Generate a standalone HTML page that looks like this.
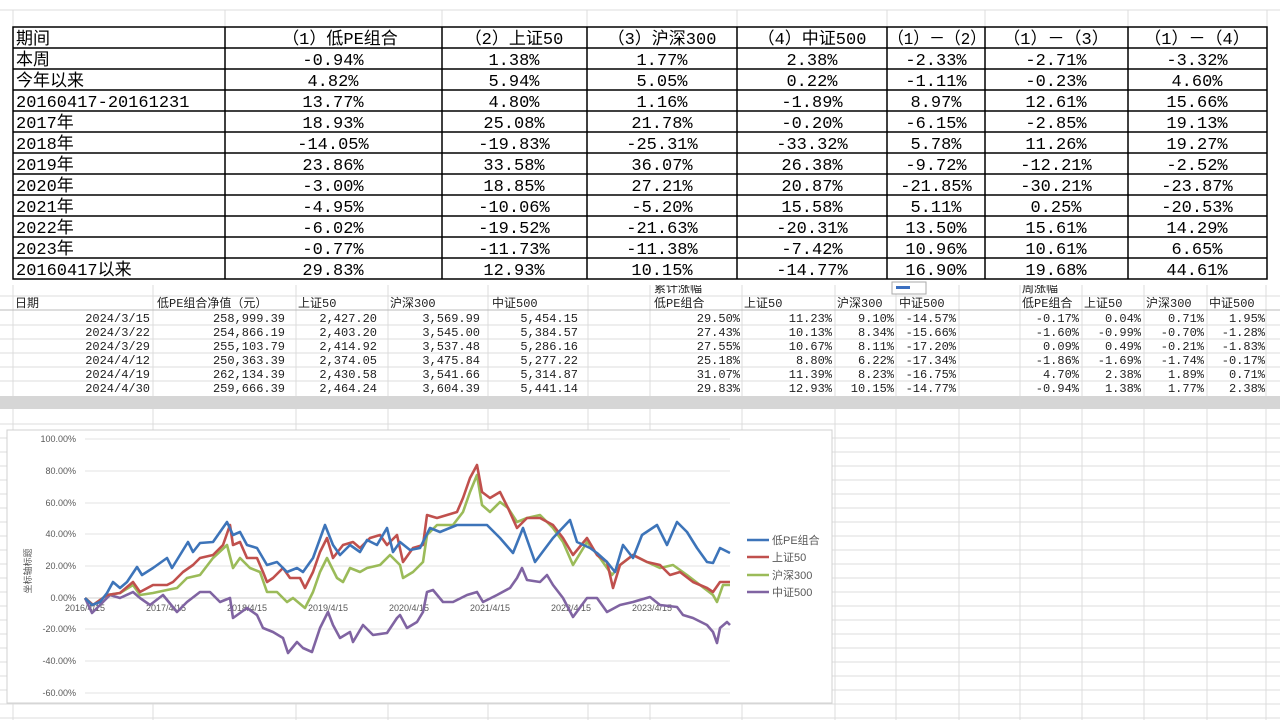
<!DOCTYPE html>
<html><head><meta charset="utf-8"><style>
html,body{margin:0;padding:0;background:#fff;width:1280px;height:720px;overflow:hidden}
svg{display:block}
.t{font-family:"Liberation Mono","Noto Sans CJK SC",monospace;font-size:17px;fill:#000}
.m{font-family:"Liberation Mono","Noto Sans CJK SC",monospace;font-size:12px;fill:#222}
.a{font-family:"Liberation Sans","Noto Sans CJK SC",sans-serif;font-size:9px;fill:#595959}
.l{font-family:"Liberation Sans","Noto Sans CJK SC",sans-serif;font-size:11px;fill:#595959}
</style></head><body>
<svg width="1280" height="720" xmlns="http://www.w3.org/2000/svg">
<g stroke="#dcdcdc" stroke-width="1">
<line x1="13" y1="10" x2="13" y2="720"/>
<line x1="225" y1="10" x2="225" y2="27"/><line x1="442" y1="10" x2="442" y2="27"/><line x1="587" y1="10" x2="587" y2="27"/><line x1="737" y1="10" x2="737" y2="27"/><line x1="887" y1="10" x2="887" y2="27"/><line x1="985" y1="10" x2="985" y2="27"/><line x1="1128" y1="10" x2="1128" y2="27"/><line x1="1267" y1="10" x2="1267" y2="27"/>
<line x1="0" y1="10" x2="1280" y2="10"/>
<line x1="153" y1="280" x2="153" y2="720"/><line x1="296" y1="280" x2="296" y2="720"/><line x1="388" y1="280" x2="388" y2="720"/><line x1="488" y1="280" x2="488" y2="720"/><line x1="588" y1="280" x2="588" y2="720"/><line x1="650" y1="280" x2="650" y2="720"/><line x1="742" y1="280" x2="742" y2="720"/><line x1="835" y1="280" x2="835" y2="720"/><line x1="896" y1="280" x2="896" y2="720"/><line x1="959" y1="280" x2="959" y2="720"/><line x1="1020" y1="280" x2="1020" y2="720"/><line x1="1082" y1="280" x2="1082" y2="720"/><line x1="1144" y1="280" x2="1144" y2="720"/><line x1="1207" y1="280" x2="1207" y2="720"/><line x1="1266" y1="280" x2="1266" y2="720"/>
<line x1="0" y1="296" x2="1280" y2="296"/>
<line x1="0" y1="325" x2="1280" y2="325"/><line x1="0" y1="339" x2="1280" y2="339"/><line x1="0" y1="353" x2="1280" y2="353"/><line x1="0" y1="367" x2="1280" y2="367"/><line x1="0" y1="381" x2="1280" y2="381"/>
<line x1="0" y1="424" x2="1280" y2="424"/><line x1="0" y1="438" x2="1280" y2="438"/><line x1="0" y1="452" x2="1280" y2="452"/><line x1="0" y1="466" x2="1280" y2="466"/><line x1="0" y1="480" x2="1280" y2="480"/><line x1="0" y1="494" x2="1280" y2="494"/><line x1="0" y1="508" x2="1280" y2="508"/><line x1="0" y1="522" x2="1280" y2="522"/><line x1="0" y1="536" x2="1280" y2="536"/><line x1="0" y1="550" x2="1280" y2="550"/><line x1="0" y1="564" x2="1280" y2="564"/><line x1="0" y1="578" x2="1280" y2="578"/><line x1="0" y1="592" x2="1280" y2="592"/><line x1="0" y1="606" x2="1280" y2="606"/><line x1="0" y1="620" x2="1280" y2="620"/><line x1="0" y1="634" x2="1280" y2="634"/><line x1="0" y1="648" x2="1280" y2="648"/><line x1="0" y1="662" x2="1280" y2="662"/><line x1="0" y1="676" x2="1280" y2="676"/><line x1="0" y1="690" x2="1280" y2="690"/><line x1="0" y1="704" x2="1280" y2="704"/><line x1="0" y1="718" x2="1280" y2="718"/>
</g>
<line x1="0" y1="310" x2="1280" y2="310" stroke="#bbb"/>
<rect x="0" y="396" width="1280" height="13" fill="#d6d6d6"/>
<g class="m" font-size="11" fill="#555"><text x="654" y="292">累计涨幅</text><text x="1022" y="292">周涨幅</text></g>
<!-- top table -->
<rect x="0" y="27" width="1280" height="258" fill="#fff"/>
<g stroke="#000" stroke-width="1.5" fill="none">
<rect x="13" y="27" width="1254" height="252"/>
<line x1="225" y1="27" x2="225" y2="279"/><line x1="442" y1="27" x2="442" y2="279"/><line x1="587" y1="27" x2="587" y2="279"/><line x1="737" y1="27" x2="737" y2="279"/><line x1="887" y1="27" x2="887" y2="279"/><line x1="985" y1="27" x2="985" y2="279"/><line x1="1128" y1="27" x2="1128" y2="279"/>
<line x1="13" y1="48" x2="1267" y2="48"/><line x1="13" y1="69" x2="1267" y2="69"/><line x1="13" y1="90" x2="1267" y2="90"/><line x1="13" y1="111" x2="1267" y2="111"/><line x1="13" y1="132" x2="1267" y2="132"/><line x1="13" y1="153" x2="1267" y2="153"/><line x1="13" y1="174" x2="1267" y2="174"/><line x1="13" y1="195" x2="1267" y2="195"/><line x1="13" y1="216" x2="1267" y2="216"/><line x1="13" y1="237" x2="1267" y2="237"/><line x1="13" y1="258" x2="1267" y2="258"/>
</g>
<g class="t">
<text x="16" y="44">期间</text><text x="16" y="65">本周</text><text x="16" y="86">今年以来</text><text x="16" y="107">20160417-20161231</text><text x="16" y="128">2017年</text><text x="16" y="149">2018年</text><text x="16" y="170">2019年</text><text x="16" y="191">2020年</text><text x="16" y="212">2021年</text><text x="16" y="233">2022年</text><text x="16" y="254">2023年</text><text x="16" y="275">20160417以来</text>
</g>
<g class="t" text-anchor="middle">
<text x="340" y="44">（1）低PE组合</text><text x="514" y="44">（2）上证50</text><text x="662" y="44">（3）沪深300</text><text x="812" y="44">（4）中证500</text><text x="937" y="44" textLength="98" lengthAdjust="spacingAndGlyphs">（1）－（2）</text><text x="1056" y="44">（1）－（3）</text><text x="1197" y="44">（1）－（4）</text>
<g transform="translate(0,65)"><text x="333">-0.94%</text><text x="514">1.38%</text><text x="662">1.77%</text><text x="812">2.38%</text><text x="936">-2.33%</text><text x="1056">-2.71%</text><text x="1197">-3.32%</text></g>
<g transform="translate(0,86)"><text x="333">4.82%</text><text x="514">5.94%</text><text x="662">5.05%</text><text x="812">0.22%</text><text x="936">-1.11%</text><text x="1056">-0.23%</text><text x="1197">4.60%</text></g>
<g transform="translate(0,107)"><text x="333">13.77%</text><text x="514">4.80%</text><text x="662">1.16%</text><text x="812">-1.89%</text><text x="936">8.97%</text><text x="1056">12.61%</text><text x="1197">15.66%</text></g>
<g transform="translate(0,128)"><text x="333">18.93%</text><text x="514">25.08%</text><text x="662">21.78%</text><text x="812">-0.20%</text><text x="936">-6.15%</text><text x="1056">-2.85%</text><text x="1197">19.13%</text></g>
<g transform="translate(0,149)"><text x="333">-14.05%</text><text x="514">-19.83%</text><text x="662">-25.31%</text><text x="812">-33.32%</text><text x="936">5.78%</text><text x="1056">11.26%</text><text x="1197">19.27%</text></g>
<g transform="translate(0,170)"><text x="333">23.86%</text><text x="514">33.58%</text><text x="662">36.07%</text><text x="812">26.38%</text><text x="936">-9.72%</text><text x="1056">-12.21%</text><text x="1197">-2.52%</text></g>
<g transform="translate(0,191)"><text x="333">-3.00%</text><text x="514">18.85%</text><text x="662">27.21%</text><text x="812">20.87%</text><text x="936">-21.85%</text><text x="1056">-30.21%</text><text x="1197">-23.87%</text></g>
<g transform="translate(0,212)"><text x="333">-4.95%</text><text x="514">-10.06%</text><text x="662">-5.20%</text><text x="812">15.58%</text><text x="936">5.11%</text><text x="1056">0.25%</text><text x="1197">-20.53%</text></g>
<g transform="translate(0,233)"><text x="333">-6.02%</text><text x="514">-19.52%</text><text x="662">-21.63%</text><text x="812">-20.31%</text><text x="936">13.50%</text><text x="1056">15.61%</text><text x="1197">14.29%</text></g>
<g transform="translate(0,254)"><text x="333">-0.77%</text><text x="514">-11.73%</text><text x="662">-11.38%</text><text x="812">-7.42%</text><text x="936">10.96%</text><text x="1056">10.61%</text><text x="1197">6.65%</text></g>
<g transform="translate(0,275)"><text x="333">29.83%</text><text x="514">12.93%</text><text x="662">10.15%</text><text x="812">-14.77%</text><text x="936">16.90%</text><text x="1056">19.68%</text><text x="1197">44.61%</text></g>
</g>
<!-- mid tables -->
<rect x="892" y="282" width="34" height="12" fill="#fff" stroke="#aaa"/><rect x="896" y="286" width="14" height="3" fill="#3b6fc0"/>
<g class="m">
<text x="15" y="307">日期</text><text x="157" y="307">低PE组合净值（元）</text><text x="298" y="307">上证50</text><text x="390" y="307">沪深300</text><text x="492" y="307">中证500</text>
<text x="654" y="307">低PE组合</text><text x="744" y="307">上证50</text><text x="837" y="307">沪深300</text><text x="899" y="307">中证500</text>
<text x="1022" y="307">低PE组合</text><text x="1084" y="307">上证50</text><text x="1146" y="307">沪深300</text><text x="1209" y="307">中证500</text>
</g>
<g class="m" text-anchor="end">
<g transform="translate(0,322)"><text x="150">2024/3/15</text><text x="285">258,999.39</text><text x="377">2,427.20</text><text x="480">3,569.99</text><text x="578">5,454.15</text><text x="740">29.50%</text><text x="832">11.23%</text><text x="894">9.10%</text><text x="956">-14.57%</text><text x="1079">-0.17%</text><text x="1141">0.04%</text><text x="1204">0.71%</text><text x="1265">1.95%</text></g>
<g transform="translate(0,336)"><text x="150">2024/3/22</text><text x="285">254,866.19</text><text x="377">2,403.20</text><text x="480">3,545.00</text><text x="578">5,384.57</text><text x="740">27.43%</text><text x="832">10.13%</text><text x="894">8.34%</text><text x="956">-15.66%</text><text x="1079">-1.60%</text><text x="1141">-0.99%</text><text x="1204">-0.70%</text><text x="1265">-1.28%</text></g>
<g transform="translate(0,350)"><text x="150">2024/3/29</text><text x="285">255,103.79</text><text x="377">2,414.92</text><text x="480">3,537.48</text><text x="578">5,286.16</text><text x="740">27.55%</text><text x="832">10.67%</text><text x="894">8.11%</text><text x="956">-17.20%</text><text x="1079">0.09%</text><text x="1141">0.49%</text><text x="1204">-0.21%</text><text x="1265">-1.83%</text></g>
<g transform="translate(0,364)"><text x="150">2024/4/12</text><text x="285">250,363.39</text><text x="377">2,374.05</text><text x="480">3,475.84</text><text x="578">5,277.22</text><text x="740">25.18%</text><text x="832">8.80%</text><text x="894">6.22%</text><text x="956">-17.34%</text><text x="1079">-1.86%</text><text x="1141">-1.69%</text><text x="1204">-1.74%</text><text x="1265">-0.17%</text></g>
<g transform="translate(0,378)"><text x="150">2024/4/19</text><text x="285">262,134.39</text><text x="377">2,430.58</text><text x="480">3,541.66</text><text x="578">5,314.87</text><text x="740">31.07%</text><text x="832">11.39%</text><text x="894">8.23%</text><text x="956">-16.75%</text><text x="1079">4.70%</text><text x="1141">2.38%</text><text x="1204">1.89%</text><text x="1265">0.71%</text></g>
<g transform="translate(0,392)"><text x="150">2024/4/30</text><text x="285">259,666.39</text><text x="377">2,464.24</text><text x="480">3,604.39</text><text x="578">5,441.14</text><text x="740">29.83%</text><text x="832">12.93%</text><text x="894">10.15%</text><text x="956">-14.77%</text><text x="1079">-0.94%</text><text x="1141">1.38%</text><text x="1204">1.77%</text><text x="1265">2.38%</text></g>
</g>
<!-- chart -->
<rect x="7" y="430" width="825" height="273" fill="#fff" stroke="#d0d0d0"/>
<g stroke="#e3e3e3" stroke-width="1">
<line x1="85" y1="439" x2="730" y2="439"/><line x1="85" y1="471" x2="730" y2="471"/><line x1="85" y1="503" x2="730" y2="503"/><line x1="85" y1="534" x2="730" y2="534"/><line x1="85" y1="566" x2="730" y2="566"/><line x1="85" y1="629" x2="730" y2="629"/><line x1="85" y1="661" x2="730" y2="661"/><line x1="85" y1="693" x2="730" y2="693"/>
</g>
<line x1="85" y1="598" x2="730" y2="598" stroke="#d0d0d0"/>
<g class="a" text-anchor="end">
<text x="76" y="442">100.00%</text><text x="76" y="474">80.00%</text><text x="76" y="506">60.00%</text><text x="76" y="537">40.00%</text><text x="76" y="569">20.00%</text><text x="76" y="601">0.00%</text><text x="76" y="632">-20.00%</text><text x="76" y="664">-40.00%</text><text x="76" y="696">-60.00%</text>
</g>
<text class="a" font-size="11" transform="translate(31,571) rotate(-90)" text-anchor="middle">坐标轴标题</text>
<g class="a" text-anchor="middle">
<text x="85" y="611">2016/4/15</text><text x="166" y="611">2017/4/15</text><text x="247" y="611">2018/4/15</text><text x="328" y="611">2019/4/15</text><text x="409" y="611">2020/4/15</text><text x="490" y="611">2021/4/15</text><text x="571" y="611">2022/4/15</text><text x="652" y="611">2023/4/15</text>
</g>
<g fill="none" stroke-width="2.6" stroke-linejoin="round">
<polyline stroke="#8064a2" points="85,598 92,613 100,605 110,595 120,598 133,592 140,598 150,605 163,595 177,612 187,602 200,592 210,592 220,602 230,598 233,618 247,608 257,615 263,628 273,632 283,638 288,653 297,642 303,648 312,652 320,628 328,612 333,625 340,638 350,632 353,642 363,625 373,635 387,633 397,618 400,615 407,628 417,622 423,612 427,592 433,590 443,602 453,602 467,595 477,592 483,602 497,595 510,588 517,578 522,568 527,580 540,582 547,575 553,585 563,598 573,617 587,598 597,598 607,612 620,605 633,602 650,597 660,605 677,607 683,615 693,618 707,625 713,632 717,643 720,628 727,622 730,625"/>
<polyline stroke="#9bbb59" points="85,598 93,605 107,595 120,593 133,585 140,595 153,593 167,590 177,588 187,578 200,575 213,558 227,545 233,568 240,558 250,568 260,572 267,592 277,592 287,602 293,598 305,608 313,592 320,572 327,558 337,578 343,582 350,568 360,572 367,568 380,565 390,555 400,565 403,578 413,572 423,562 427,535 437,525 453,525 463,512 470,492 477,475 482,505 490,512 500,502 508,508 517,522 527,518 540,515 553,528 563,542 573,565 587,542 600,558 612,575 620,565 633,555 647,562 660,568 673,565 687,575 700,585 713,595 717,602 723,585 730,585"/>
<polyline stroke="#c0504d" points="85,598 93,605 107,595 120,593 133,582 140,592 153,585 167,585 173,582 183,572 193,565 200,558 213,555 223,545 230,525 233,545 240,542 247,558 257,558 263,572 267,582 273,578 283,568 290,578 300,578 305,588 313,572 320,552 327,538 333,558 343,545 353,542 360,548 370,538 380,535 387,545 397,535 403,562 413,548 423,545 427,515 437,518 447,515 457,512 463,498 470,478 477,465 482,492 490,498 500,492 508,508 517,528 527,518 540,518 553,525 563,538 573,555 587,538 597,555 607,562 613,588 620,565 633,555 647,562 660,565 670,575 680,572 693,582 707,588 713,592 720,582 730,582"/>
<polyline stroke="#3d74b9" points="85,598 92,605 100,602 107,593 113,582 120,588 127,582 137,567 142,575 153,568 167,558 172,568 180,555 188,542 193,552 200,543 213,542 227,522 233,535 240,532 247,545 257,548 267,565 277,562 287,572 297,568 303,572 313,558 325,525 333,545 340,555 350,545 360,552 367,540 377,545 387,528 393,552 400,542 410,550 420,548 430,528 440,532 457,525 487,525 500,538 513,553 523,528 535,562 553,538 570,520 577,542 590,548 597,553 607,562 615,572 623,545 633,558 642,535 657,525 667,545 677,522 687,532 697,548 707,562 713,563 720,548 730,553"/>
</g>
<g stroke-width="2.6">
<line x1="747" y1="540" x2="769" y2="540" stroke="#3d74b9"/><line x1="747" y1="557" x2="769" y2="557" stroke="#c0504d"/><line x1="747" y1="575" x2="769" y2="575" stroke="#9bbb59"/><line x1="747" y1="592" x2="769" y2="592" stroke="#8064a2"/>
</g>
<g class="l"><text x="772" y="544">低PE组合</text><text x="772" y="561">上证50</text><text x="772" y="579">沪深300</text><text x="772" y="596">中证500</text></g>
</svg>
</body></html>
